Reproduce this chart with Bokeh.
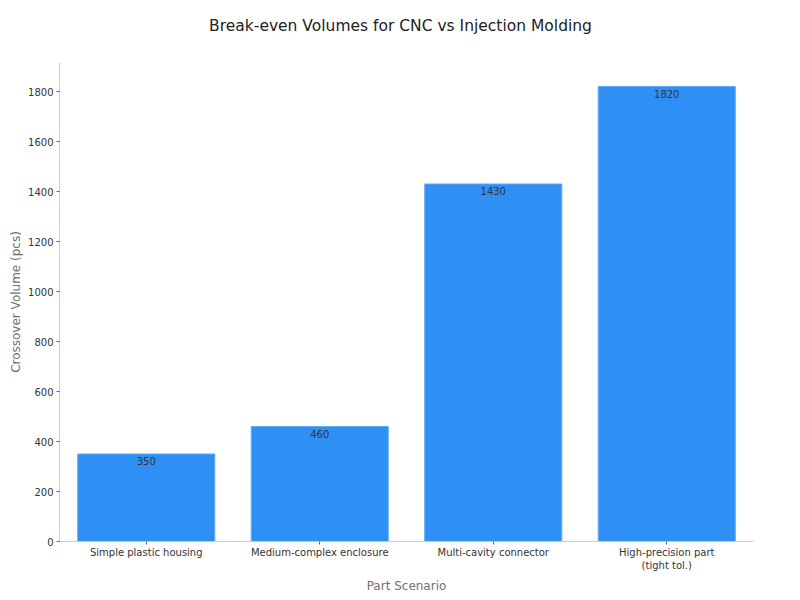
from bokeh.plotting import figure
from bokeh.layouts import column
from bokeh.models import ColumnDataSource, Range1d, FactorRange
from bokeh.embed import file_html
from bokeh.resources import INLINE
from bokeh.core.properties import value

categories = ["Simple plastic housing", "Medium-complex enclosure",
              "Multi-cavity connector", "High-precision part\n(tight tol.)"]
volumes = [350, 460, 1430, 1820]
labels = [str(v) for v in volumes]
title_text = "Break-even Volumes for CNC vs Injection Molding"

FONT = "DejaVu Sans"

# --- title strip (frame aligned with the chart frame below) ---
t = figure(frame_width=694, frame_height=50, x_range=Range1d(0, 1), y_range=Range1d(0, 1),
           min_border_left=59, min_border_right=40, min_border_top=0, min_border_bottom=0,
           output_backend="svg", toolbar_location=None)
t.text(x=[0.4914], y=[0.5], text=[title_text], text_align="center", text_baseline="middle",
       text_font=value(FONT), text_font_size="15.5px", text_color="#222222")
t.axis.visible = False
t.grid.visible = False
t.outline_line_color = None

# --- main chart ---
src = ColumnDataSource(dict(cat=categories, vol=volumes, lab=labels))

p = figure(x_range=FactorRange(*categories, range_padding=0),
           y_range=Range1d(0, 1916),
           frame_width=694, frame_height=479,
           min_border_left=59, min_border_right=40,
           min_border_top=12, min_border_bottom=51,
           output_backend="svg", toolbar_location=None)

p.vbar(x="cat", top="vol", width=0.79, source=src,
       fill_color="#2E90F4", line_color="#62aaf3", line_width=1)

p.text(x="cat", y="vol", text="lab", source=src,
       text_align="center", text_baseline="top", y_offset=3,
       text_font=value(FONT), text_font_size="10px", text_color="#333333")

p.outline_line_color = None
p.xgrid.grid_line_color = None
p.ygrid.grid_line_color = None

for ax in (p.xaxis[0], p.yaxis[0]):
    ax.axis_line_color = "#cccccc"
    ax.major_tick_line_color = "#666666"
    ax.major_tick_out = 3
    ax.major_tick_in = 0
    ax.minor_tick_line_color = None
    ax.major_label_text_font = FONT
    ax.major_label_text_font_size = "10px"
    ax.major_label_text_color = "#333333"
    ax.axis_label_text_font = FONT
    ax.axis_label_text_font_size = "12px"
    ax.axis_label_text_font_style = "normal"
    ax.axis_label_text_color = "#707070"

p.xaxis.axis_label = "Part Scenario"
p.yaxis.axis_label = "Crossover Volume (pcs)"
p.yaxis.ticker = [0, 200, 400, 600, 800, 1000, 1200, 1400, 1600, 1800]
p.xaxis.major_label_standoff = 2
p.yaxis.major_label_standoff = 3
p.yaxis.axis_label_standoff = 2

layout = column(t, p, spacing=0)
open("out.html", "w").write(file_html(layout, INLINE))
